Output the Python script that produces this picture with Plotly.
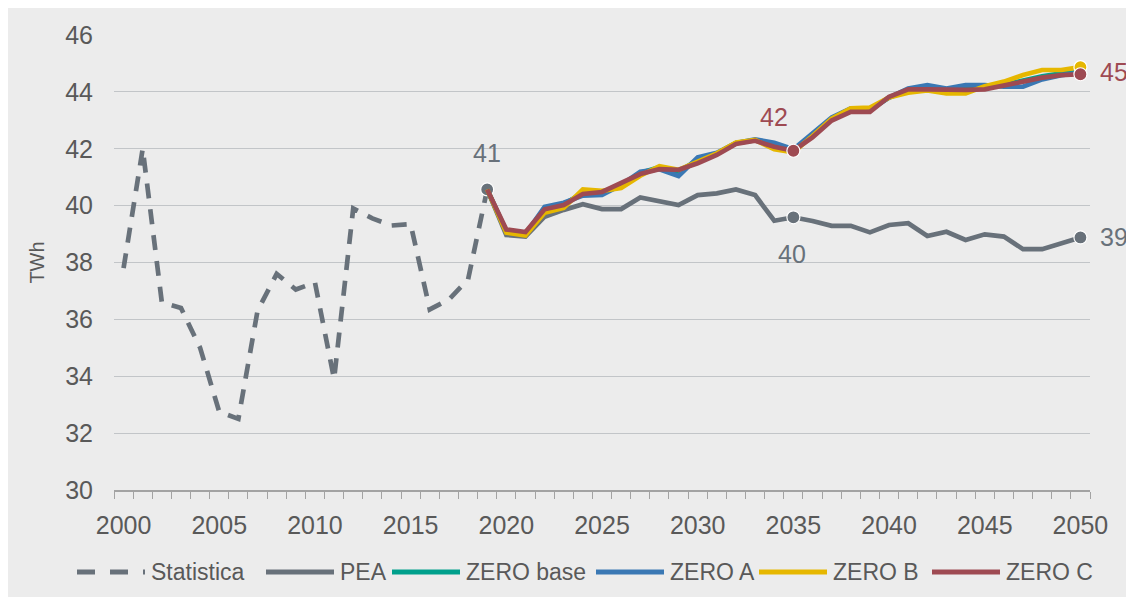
import plotly.graph_objects as go

# ---------------- data ----------------
hist_years = list(range(2000, 2020))
statistica = [37.8, 42.0, 36.6, 36.4, 35.0, 32.75, 32.5, 36.3, 37.6, 37.05,
              37.3, 33.9, 39.9, 39.55, 39.3, 39.35, 36.35, 36.7, 37.4, 40.57]

proj_years = list(range(2019, 2051))
pea = [40.57, 38.97, 38.91, 39.61, 39.85, 40.05, 39.88, 39.88, 40.29, 40.16,
       40.02, 40.37, 40.43, 40.57, 40.37, 39.47, 39.59, 39.46, 39.29, 39.29,
       39.06, 39.32, 39.38, 38.93, 39.08, 38.79, 38.99, 38.91, 38.47, 38.47,
       38.67, 38.88]
zero_base = [40.57, 39.08, 38.98, 39.90, 40.05, 40.45, 40.45, 40.70, 41.15, 41.35,
             41.20, 41.60, 41.82, 42.20, 42.30, 42.10, 41.95, 42.45, 43.05, 43.38,
             43.38, 43.80, 44.05, 44.12, 44.05, 44.10, 44.15, 44.25, 44.40, 44.55,
             44.65, 44.70]
zero_a = [40.57, 39.10, 39.00, 39.96, 40.10, 40.35, 40.38, 40.73, 41.19, 41.28,
          41.04, 41.70, 41.86, 42.20, 42.33, 42.21, 41.98, 42.55, 43.10, 43.42,
          43.36, 43.80, 44.12, 44.24, 44.12, 44.24, 44.24, 44.18, 44.18, 44.44,
          44.59, 44.67]
zero_b = [40.57, 39.05, 38.95, 39.75, 39.92, 40.57, 40.52, 40.62, 41.05, 41.39,
          41.26, 41.55, 41.84, 42.22, 42.31, 41.98, 41.88, 42.45, 43.06, 43.42,
          43.45, 43.80, 43.97, 44.05, 43.95, 43.95, 44.20, 44.36, 44.59, 44.77,
          44.77, 44.87]
zero_c = [40.57, 39.16, 39.07, 39.87, 40.02, 40.41, 40.48, 40.81, 41.11, 41.28,
          41.26, 41.49, 41.78, 42.17, 42.28, 42.07, 41.93, 42.40, 42.99, 43.30,
          43.30, 43.83, 44.09, 44.09, 44.07, 44.07, 44.09, 44.21, 44.36, 44.50,
          44.59, 44.62]

series_names = ["Statistica", "PEA", "ZERO base", "ZERO A", "ZERO B", "ZERO C"]
x_tick_vals = list(range(2000, 2051, 5))
y_tick_vals = list(range(30, 47, 2))
marker_years = [2035, 2050]

# ---------------- style ----------------
GRAY = "#68717A"
TEAL = "#00A08C"
BLUE = "#3A78B4"
YELLOW = "#E6B700"
RED = "#9E4A52"
BG = "#ECECEC"
TXT = "#595959"
FONT = "Liberation Sans, Arial, sans-serif"
LW = 4.7
DASH = "15px,11px"
colors = [GRAY, GRAY, TEAL, BLUE, YELLOW, RED]

# figure geometry (pixels) for paper-coordinate conversion of the legend
L, R, T, B, W, H = 106, 52, 27, 115, 1134, 597
PW, PH = W - L - R, H - T - B
def px(x):
    return (x - L) / PW
def py(y):
    return (H - B - y) / PH

fig = go.Figure()

fig.add_trace(go.Scatter(x=hist_years, y=statistica, mode="lines", name=series_names[0],
                         line=dict(color=GRAY, width=LW, dash=DASH)))

# marker at 2019 (last historical point)
fig.add_trace(go.Scatter(x=[hist_years[-1]], y=[statistica[-1]], mode="markers",
                         hoverinfo="skip",
                         marker=dict(color=GRAY, size=13, line=dict(color="white", width=1.2))))

for name, vals, col in zip(series_names[1:], [pea, zero_base, zero_a, zero_b, zero_c], colors[1:]):
    fig.add_trace(go.Scatter(x=proj_years, y=vals, mode="lines", name=name,
                             line=dict(color=col, width=LW)))

def pick(vals, yrs):
    return [vals[proj_years.index(y)] for y in yrs]

mk = dict(size=13, line=dict(color="white", width=1.2))
fig.add_trace(go.Scatter(x=marker_years, y=pick(pea, marker_years), mode="markers",
                         hoverinfo="skip", marker=dict(color=GRAY, **mk)))
fig.add_trace(go.Scatter(x=[2050], y=pick(zero_b, [2050]), mode="markers",
                         hoverinfo="skip", marker=dict(color=YELLOW, **mk)))
fig.add_trace(go.Scatter(x=marker_years, y=pick(zero_c, marker_years), mode="markers",
                         hoverinfo="skip", marker=dict(color=RED, **mk)))

# data labels
labels = [
    (2019, statistica[-1], GRAY, 0, 36),
    (2035, pick(pea, [2035])[0], GRAY, -1, -37),
    (2050, pick(pea, [2050])[0], GRAY, 34, 0),
    (2035, pick(zero_c, [2035])[0], RED, -19, 34),
    (2050, pick(zero_c, [2050])[0], RED, 34, 2),
]
for yr, v, col, dx, dy in labels:
    fig.add_annotation(x=yr, y=v, xref="x", yref="y", text=f"{round(v)}",
                       showarrow=False, xshift=dx, yshift=dy,
                       font=dict(family=FONT, size=25, color=col))

# legend (drawn as keys + text below the plot)
leg_x = [69, 258, 384, 588, 751, 924]
leg_y = 564
for i, (name, col) in enumerate(zip(series_names, colors)):
    fig.add_shape(type="line", xref="paper", yref="paper",
                  x0=px(leg_x[i]), x1=px(leg_x[i] + 68), y0=py(leg_y), y1=py(leg_y),
                  line=dict(color=col, width=5, dash="18px,15px" if i == 0 else "solid"))
    fig.add_annotation(xref="paper", yref="paper", x=px(leg_x[i] + 72), y=py(leg_y),
                       xanchor="left", yanchor="middle", text=name, showarrow=False,
                       font=dict(family=FONT, size=23, color=TXT))

fig.update_layout(
    width=W, height=H,
    margin=dict(l=L, r=R, t=T, b=B),
    paper_bgcolor=BG, plot_bgcolor=BG,
    font=dict(family=FONT, size=24, color=TXT),
    showlegend=False,
    xaxis=dict(range=[1999.5, 2050.5], tickvals=x_tick_vals, ticks="outside", ticklen=0,
               tickcolor="rgba(0,0,0,0)",
               showgrid=False, zeroline=False, showline=True, automargin=False,
               linecolor="#A3A3A3", linewidth=1.5,
               tickfont=dict(family=FONT, size=25, color=TXT),
               ticklabelstandoff=12,
               minor=dict(ticks="outside", tick0=1999.5, dtick=1, ticklen=7,
                          tickcolor="#A3A3A3", tickwidth=1.2, showgrid=False)),
    yaxis=dict(range=[30, 46], tickvals=y_tick_vals, ticks="", automargin=False,
               showgrid=True, gridcolor="#C2C5C8", gridwidth=1.3,
               zeroline=False, showline=False,
               tickfont=dict(family=FONT, size=25, color=TXT),
               ticklabelstandoff=20,
               title=dict(text="TWh", font=dict(family=FONT, size=20, color=TXT),
                          standoff=15)),
)

fig.write_html("out.html")
